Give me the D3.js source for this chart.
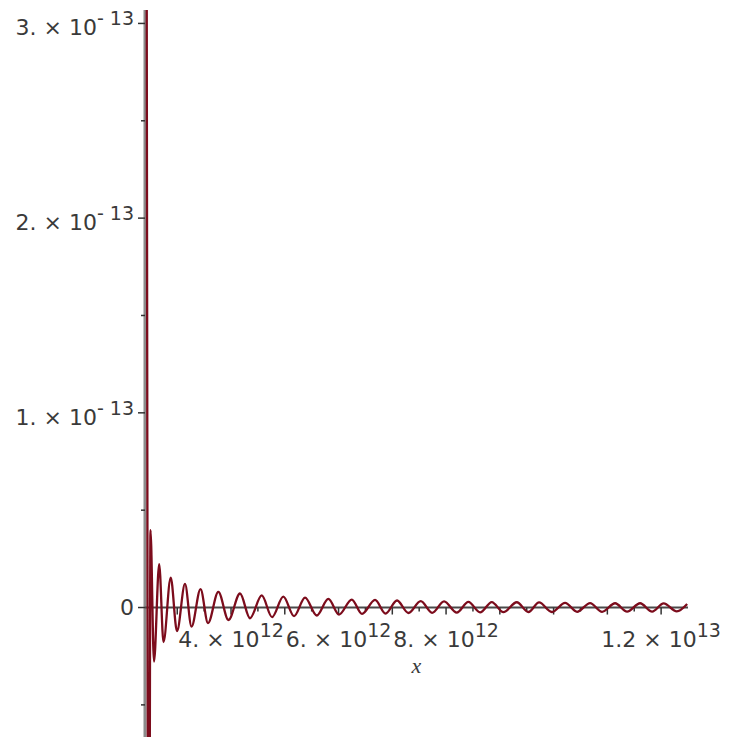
<!DOCTYPE html>
<html>
<head>
<meta charset="utf-8">
<script src="https://cdn.jsdelivr.net/npm/d3@7"></script>
<style>
  body { margin: 0; background: #fff; }
  .lbl { font-family: "DejaVu Sans", sans-serif; font-size: 22px; fill: #3a3a3a; }
  .lbl .sup { font-size: 19px; }
  .xname { font-family: "Liberation Serif", serif; font-style: italic; font-size: 22px; fill: #3a3a3a; }
</style>
</head>
<body>
<svg id="chart" width="729" height="737"></svg>
<script>
  // f(x) at its turning points (x, y)
  const curve = [
    [2.424e12, 5.0e-13],
    [2.473e12, -2.5e-13],
    [2.502e12, 0.398e-13],
    [2.567e12, -0.278e-13],
    [2.664e12, 0.223e-13],
    [2.744e12, -0.177e-13],
    [2.878e12, 0.154e-13],
    [2.995e12, -0.121e-13],
    [3.144e12, 0.121e-13],
    [3.265e12, -0.098e-13],
    [3.433e12, 0.095e-13],
    [3.572e12, -0.080e-13],
    [3.764e12, 0.080e-13],
    [3.953e12, -0.064e-13],
    [4.167e12, 0.072e-13],
    [4.353e12, -0.055e-13],
    [4.571e12, 0.062e-13],
    [4.763e12, -0.049e-13],
    [4.973e12, 0.056e-13],
    [5.172e12, -0.044e-13],
    [5.377e12, 0.051e-13],
    [5.594e12, -0.041e-13],
    [5.810e12, 0.044e-13],
    [6.009e12, -0.036e-13],
    [6.246e12, 0.041e-13],
    [6.437e12, -0.033e-13],
    [6.679e12, 0.039e-13],
    [6.874e12, -0.031e-13],
    [7.088e12, 0.036e-13],
    [7.299e12, -0.028e-13],
    [7.529e12, 0.033e-13],
    [7.740e12, -0.027e-13],
    [7.963e12, 0.032e-13],
    [8.199e12, -0.026e-13],
    [8.415e12, 0.029e-13],
    [8.633e12, -0.025e-13],
    [8.850e12, 0.028e-13],
    [9.066e12, -0.024e-13],
    [9.315e12, 0.027e-13],
    [9.531e12, -0.023e-13],
    [9.730e12, 0.026e-13],
    [9.967e12, -0.023e-13],
    [10.214e12, 0.024e-13],
    [10.437e12, -0.022e-13],
    [10.679e12, 0.023e-13],
    [10.902e12, -0.022e-13],
    [11.144e12, 0.022e-13],
    [11.367e12, -0.021e-13],
    [11.609e12, 0.022e-13],
    [11.833e12, -0.021e-13],
    [12.047e12, 0.021e-13],
    [12.292e12, -0.020e-13],
    [12.484e12, 0.018e-13]
  ];

  const xMajor = [3e12, 4e12, 5e12, 6e12, 7e12, 8e12, 9e12, 10e12, 11e12, 12e12];
  const xMinor = [2.5e12, 3.5e12, 4.5e12, 5.5e12, 6.5e12, 7.5e12, 8.5e12, 9.5e12, 10.5e12, 11.5e12];
  const xLabelAt = [4e12, 6e12, 8e12, 1.2e13];
  const xLabelMant = ["4.", "6.", "8.", "1.2"];
  const xLabelExp = ["12", "12", "12", "13"];

  const yMajor = [0, 1e-13, 2e-13, 3e-13];
  const yMinor = [-0.5e-13, 0.5e-13, 1.5e-13, 2.5e-13];
  const yLabelMant = ["0", "1.", "2.", "3."];
  const yLabelExp = ["", "- 13", "- 13", "- 13"];

  const svg = d3.select("#chart");
  const x = d3.scaleLinear().domain([2.4e12, 12.5e12]).range([145, 688]);
  const y = d3.scaleLinear().domain([-0.665e-13, 3.069e-13]).range([737, 10]);

  // axes (Maple style: ticks on one side only)
  const yAxisG = svg.append("g").attr("transform", `translate(${x.range()[0]},0)`);
  yAxisG.append("line")
    .attr("x1", 0).attr("x2", 0).attr("y1", y.range()[1]).attr("y2", y.range()[0])
    .attr("stroke", "#8c8c8c").attr("stroke-width", 3);
  yAxisG.selectAll(".maj").data(yMajor).join("line")
    .attr("x1", -7).attr("x2", 0).attr("y1", d => y(d)).attr("y2", d => y(d))
    .attr("stroke", "#333").attr("stroke-width", 1.5);
  yAxisG.selectAll(".min").data(yMinor).join("line")
    .attr("x1", -4).attr("x2", 0).attr("y1", d => y(d)).attr("y2", d => y(d))
    .attr("stroke", "#333").attr("stroke-width", 1.5);

  const xAxisG = svg.append("g").attr("transform", `translate(0,${y(0)})`);
  xAxisG.append("line")
    .attr("x1", x.range()[0]).attr("x2", x.range()[1]).attr("y1", 0).attr("y2", 0)
    .attr("stroke", "#4a4a4a").attr("stroke-width", 2);
  xAxisG.selectAll(".maj").data(xMajor).join("line")
    .attr("x1", d => x(d)).attr("x2", d => x(d)).attr("y1", 0).attr("y2", 7)
    .attr("stroke", "#333").attr("stroke-width", 1.5);
  xAxisG.selectAll(".min").data(xMinor).join("line")
    .attr("x1", d => x(d)).attr("x2", d => x(d)).attr("y1", 0).attr("y2", 4)
    .attr("stroke", "#333").attr("stroke-width", 1.5);

  // tick labels, mantissa x 10^exp
  function sciLabel(sel, mant, exp) {
    sel.append("tspan").text(mant);
    if (exp) {
      sel.append("tspan").text(" \u00d7 10");
      sel.append("tspan").attr("class", "sup").attr("dy", -10).text(exp);
    }
  }

  yMajor.forEach((v, i) => {
    const t = svg.append("text").attr("class", "lbl")
      .attr("text-anchor", "end")
      .attr("x", 134)
      .attr("y", y(v) + (yLabelExp[i] ? 12 : 7.5));
    sciLabel(t, yLabelMant[i], yLabelExp[i]);
  });

  xLabelAt.forEach((v, i) => {
    const t = svg.append("text").attr("class", "lbl")
      .attr("text-anchor", "middle")
      .attr("x", x(v))
      .attr("y", y(0) + 39.5);
    sciLabel(t, xLabelMant[i], xLabelExp[i]);
  });

  svg.append("text").attr("class", "xname")
    .attr("text-anchor", "middle")
    .attr("x", d3.mean(x.range()))
    .attr("y", y(0) + 65)
    .text("x");

  // curve
  svg.append("clipPath").attr("id", "plotArea").append("rect")
    .attr("x", x.range()[0]).attr("y", y.range()[1])
    .attr("width", 729 - x.range()[0]).attr("height", y.range()[0] - y.range()[1]);

  const line = d3.line()
    .x(d => x(d[0]))
    .y(d => y(d[1]))
    .curve(d3.curveMonotoneX);

  svg.append("path").datum(curve)
    .attr("clip-path", "url(#plotArea)")
    .attr("fill", "none")
    .attr("stroke", "#7c0c1c")
    .attr("stroke-width", 2.3)
    .attr("d", line);
</script>
</body>
</html>
